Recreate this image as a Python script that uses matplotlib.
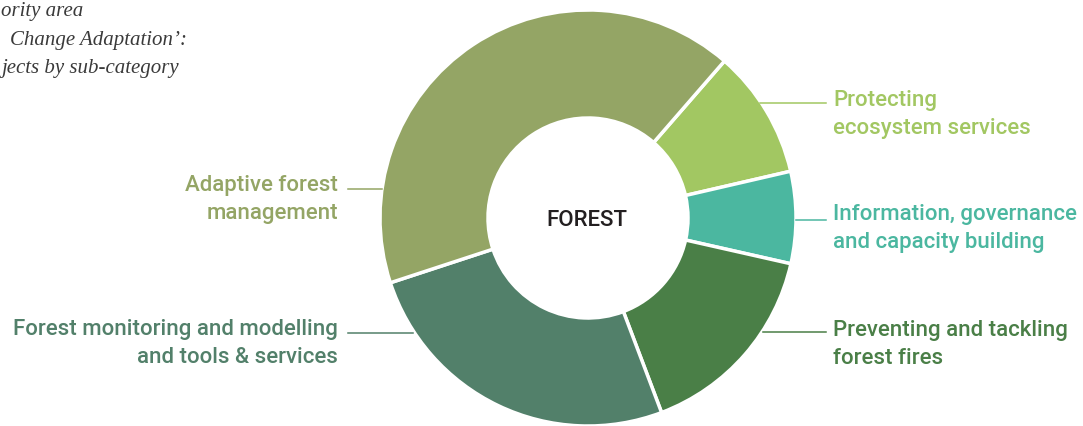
import matplotlib
matplotlib.use("Agg")
import matplotlib.pyplot as plt

# ---- data ----
categories = ["Protecting\necosystem services",
              "Information, governance\nand capacity building",
              "Preventing and tackling\nforest fires",
              "Forest monitoring and modelling\nand tools & services",
              "Adaptive forest\nmanagement"]
values = [7, 5, 11, 18, 29]
colors = ["#A2C762", "#4BB7A0", "#4A7F47", "#52806A", "#94A565"]
center_label = "FOREST"
# title is cut off at the left edge of the reference; only the visible part is kept
title_lines = ["ority area",
               "Change Adaptation’:",
               "jects by sub-category"]

W, H = 1083, 426
fig = plt.figure(figsize=(W / 100, H / 100), dpi=100)
ax = fig.add_axes([0, 0, 1, 1])

def Y(py):
    return H - py

cx, cy, R, r_in = 588, 218, 208, 100
ax.pie(values, colors=colors, startangle=49, counterclock=False,
       center=(cx, Y(cy)), radius=R, frame=True,
       wedgeprops=dict(width=R - r_in, edgecolor="white", linewidth=2.5))
ax.set_xlim(0, W)
ax.set_ylim(0, H)
ax.set_aspect("equal")
ax.axis("off")

font = "Roboto"
ax.text(cx - 1, Y(220), center_label, ha="center", va="center", fontsize=16,
        family=font, fontweight="medium", color="#231F20")

fs = 16
# right labels: (category index, text x, first baseline y, line y, line x0)
right = [(0, 833, 106, 103, 760), (1, 833, 220, 220, 796), (2, 833, 336, 332, 763)]
for i, tx, by, ly, lx0 in right:
    for k, line in enumerate(categories[i].split("\n")):
        ax.text(tx, Y(by + 28 * k), line, ha="left", va="baseline", fontsize=fs,
                family=font, fontweight="medium", color=colors[i])
    ax.plot([lx0, 826], [Y(ly), Y(ly)], color=colors[i], lw=1.1)

left = [(4, 338, 191, 189, 382), (3, 338, 335, 333, 413)]
for i, tx, by, ly, lx1 in left:
    for k, line in enumerate(categories[i].split("\n")):
        ax.text(tx, Y(by + 28 * k), line, ha="right", va="baseline", fontsize=fs,
                family=font, fontweight="medium", color=colors[i])
    ax.plot([348, lx1], [Y(ly), Y(ly)], color=colors[i], lw=1.1)

title_left = [1, 10, 1]
title_base = [16, 45, 73]
for t, xl, yb in zip(title_lines, title_left, title_base):
    ax.text(xl, Y(yb), t, ha="left", va="baseline", fontsize=15,
            family="Liberation Serif", style="italic", color="#3A3A3A")

fig.savefig("out.png", dpi=100)
